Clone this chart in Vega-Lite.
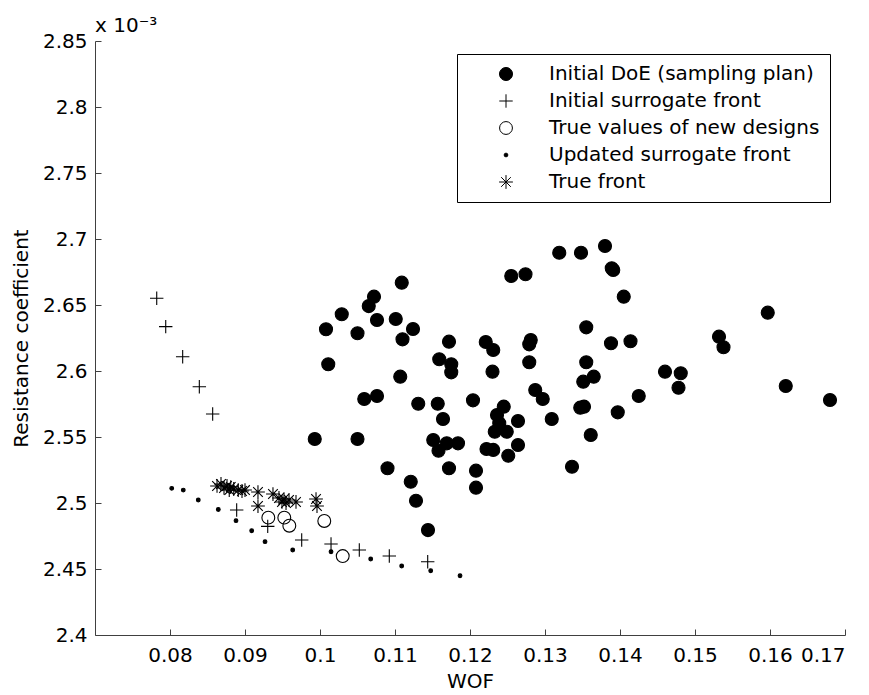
{
  "$schema": "https://vega.github.io/schema/vega-lite/v6.json",
  "autosize": "none",
  "width": 750,
  "height": 594,
  "padding": {"left": 95, "top": 41, "right": 24, "bottom": 60},
  "background": "white",
  "title": {"text": "x 10⁻³", "anchor": "start", "frame": "group", "fontSize": 20, "font": "DejaVu Sans", "fontWeight": "normal", "color": "black", "offset": -5},
  "config": {
    "view": {"stroke": null},
    "axis": {"grid": false, "domainColor": "#404040", "tickColor": "#404040", "tickSize": -6, "labelFont": "DejaVu Sans", "labelFontSize": 20, "labelColor": "black", "titleFont": "DejaVu Sans", "titleFontSize": 20, "titleFontWeight": "normal", "titleColor": "black"},
    "legend": {"orient": "none", "legendX": 362, "legendY": 13, "strokeColor": "black", "fillColor": "white", "padding": 10, "labelFont": "DejaVu Sans", "labelFontSize": 20, "labelColor": "black", "labelLimit": 400, "symbolStrokeWidth": 1, "symbolOffset": 29, "labelOffset": 33, "rowPadding": 7, "title": null}
  },
  "data": {"values": [
    {"s":"D","x":0.1109,"y":2.6669},{"s":"D","x":0.1072,"y":2.6563},{"s":"D","x":0.1065,"y":2.6492},{"s":"D","x":0.1029,"y":2.6430},{"s":"D","x":0.1008,"y":2.6316},{"s":"D","x":0.1050,"y":2.6286},{"s":"D","x":0.1076,"y":2.6386},{"s":"D","x":0.1101,"y":2.6394},{"s":"D","x":0.1124,"y":2.6318},{"s":"D","x":0.1110,"y":2.6240},{"s":"D","x":0.1011,"y":2.6051},{"s":"D","x":0.1107,"y":2.5957},{"s":"D","x":0.1172,"y":2.6222},{"s":"D","x":0.1159,"y":2.6089},{"s":"D","x":0.1175,"y":2.6051},{"s":"D","x":0.1175,"y":2.5990},{"s":"D","x":0.1221,"y":2.6220},{"s":"D","x":0.1231,"y":2.6159},{"s":"D","x":0.1230,"y":2.5995},{"s":"D","x":0.1255,"y":2.6720},{"s":"D","x":0.1274,"y":2.6733},{"s":"D","x":0.1281,"y":2.6235},{"s":"D","x":0.1279,"y":2.6202},{"s":"D","x":0.1279,"y":2.6066},{"s":"D","x":0.1287,"y":2.5856},{"s":"D","x":0.1297,"y":2.5788},{"s":"D","x":0.1309,"y":2.5636},{"s":"D","x":0.1059,"y":2.5788},{"s":"D","x":0.1076,"y":2.5811},{"s":"D","x":0.1131,"y":2.5752},{"s":"D","x":0.1157,"y":2.5752},{"s":"D","x":0.1164,"y":2.5636},{"s":"D","x":0.1204,"y":2.5778},{"s":"D","x":0.0993,"y":2.5485},{"s":"D","x":0.1050,"y":2.5485},{"s":"D","x":0.1151,"y":2.5477},{"s":"D","x":0.1158,"y":2.5396},{"s":"D","x":0.1169,"y":2.5452},{"s":"D","x":0.1184,"y":2.5452},{"s":"D","x":0.1172,"y":2.5263},{"s":"D","x":0.1090,"y":2.5263},{"s":"D","x":0.1121,"y":2.5161},{"s":"D","x":0.1128,"y":2.5017},{"s":"D","x":0.1208,"y":2.5245},{"s":"D","x":0.1208,"y":2.5116},{"s":"D","x":0.1245,"y":2.5730},{"s":"D","x":0.1236,"y":2.5667},{"s":"D","x":0.1239,"y":2.5604},{"s":"D","x":0.1233,"y":2.5540},{"s":"D","x":0.1249,"y":2.5540},{"s":"D","x":0.1264,"y":2.5621},{"s":"D","x":0.1264,"y":2.5439},{"s":"D","x":0.1222,"y":2.5409},{"s":"D","x":0.1231,"y":2.5402},{"s":"D","x":0.1251,"y":2.5358},{"s":"D","x":0.1144,"y":2.4795},{"s":"D","x":0.1319,"y":2.6896},{"s":"D","x":0.1348,"y":2.6896},{"s":"D","x":0.1380,"y":2.6947},{"s":"D","x":0.1389,"y":2.6778},{"s":"D","x":0.1391,"y":2.6765},{"s":"D","x":0.1405,"y":2.6563},{"s":"D","x":0.1597,"y":2.6442},{"s":"D","x":0.1355,"y":2.6331},{"s":"D","x":0.1532,"y":2.6260},{"s":"D","x":0.1538,"y":2.6180},{"s":"D","x":0.1388,"y":2.6210},{"s":"D","x":0.1414,"y":2.6225},{"s":"D","x":0.1355,"y":2.6066},{"s":"D","x":0.1460,"y":2.5995},{"s":"D","x":0.1481,"y":2.5983},{"s":"D","x":0.1478,"y":2.5873},{"s":"D","x":0.1365,"y":2.5957},{"s":"D","x":0.1351,"y":2.5919},{"s":"D","x":0.1621,"y":2.5886},{"s":"D","x":0.1680,"y":2.5780},{"s":"D","x":0.1425,"y":2.5811},{"s":"D","x":0.1347,"y":2.5722},{"s":"D","x":0.1352,"y":2.5730},{"s":"D","x":0.1397,"y":2.5687},{"s":"D","x":0.1361,"y":2.5515},{"s":"D","x":0.1336,"y":2.5275},
    {"s":"P","x":0.07823,"y":2.6551},{"s":"P","x":0.07943,"y":2.6336},{"s":"P","x":0.08169,"y":2.6108},{"s":"P","x":0.08391,"y":2.5881},{"s":"P","x":0.08569,"y":2.5674},{"s":"P","x":0.08889,"y":2.4947},{"s":"P","x":0.09303,"y":2.4823},{"s":"P","x":0.09756,"y":2.4720},{"s":"P","x":0.10147,"y":2.4689},{"s":"P","x":0.10524,"y":2.4644},{"s":"P","x":0.10924,"y":2.4598},{"s":"P","x":0.11436,"y":2.4555},
    {"s":"O","x":0.09311,"y":2.4889},{"s":"O","x":0.09524,"y":2.4889},{"s":"O","x":0.09591,"y":2.4828},{"s":"O","x":0.10057,"y":2.4864},{"s":"O","x":0.10303,"y":2.4598},
    {"s":"U","x":0.08023,"y":2.5111},{"s":"U","x":0.08177,"y":2.5098},{"s":"U","x":0.08377,"y":2.5023},{"s":"U","x":0.08644,"y":2.4951},{"s":"U","x":0.0888,"y":2.4866},{"s":"U","x":0.09089,"y":2.4790},{"s":"U","x":0.09267,"y":2.4707},{"s":"U","x":0.09636,"y":2.4644},{"s":"U","x":0.10147,"y":2.4631},{"s":"U","x":0.10676,"y":2.4576},{"s":"U","x":0.11089,"y":2.4523},{"s":"U","x":0.11476,"y":2.4487},{"s":"U","x":0.11867,"y":2.4449},
    {"s":"S","x":0.08627,"y":2.5129},{"s":"S","x":0.0868,"y":2.5144},{"s":"S","x":0.0872,"y":2.5114},{"s":"S","x":0.0876,"y":2.5129},{"s":"S","x":0.0879,"y":2.5098},{"s":"S","x":0.0881,"y":2.5121},{"s":"S","x":0.0885,"y":2.5106},{"s":"S","x":0.0891,"y":2.5098},{"s":"S","x":0.0896,"y":2.5091},{"s":"S","x":0.0900,"y":2.5098},{"s":"S","x":0.09173,"y":2.5083},{"s":"S","x":0.09173,"y":2.4977},{"s":"S","x":0.09373,"y":2.5068},{"s":"S","x":0.09453,"y":2.5038},{"s":"S","x":0.09493,"y":2.5008},{"s":"S","x":0.0952,"y":2.5030},{"s":"S","x":0.09547,"y":2.5000},{"s":"S","x":0.09587,"y":2.5023},{"s":"S","x":0.0968,"y":2.5008},{"s":"S","x":0.09947,"y":2.5030},{"s":"S","x":0.0996,"y":2.4977}
  ]},
  "mark": {"type": "point", "strokeWidth": 1.1, "opacity": 1},
  "encoding": {
    "x": {"field": "x", "type": "quantitative", "scale": {"domain": [0.07, 0.17], "nice": false, "zero": false}, "axis": {"title": "WOF", "values": [0.08,0.09,0.1,0.11,0.12,0.13,0.14,0.15,0.16,0.17], "format": ".2~f", "labelPadding": 16, "titlePadding": 6}},
    "y": {"field": "y", "type": "quantitative", "scale": {"domain": [2.4, 2.85], "nice": false, "zero": false}, "axis": {"title": "Resistance coefficient", "values": [2.4,2.45,2.5,2.55,2.6,2.65,2.7,2.75,2.8,2.85], "format": ".2~f", "labelPadding": 14, "titlePadding": 11}},
    "shape": {"field": "s", "type": "nominal", "scale": {"type": "ordinal", "domain": ["D","P","O","U","S"], "range": ["circle", "M-1,0L1,0M0,-1L0,1", "circle", "circle", "M-1,0L1,0M0,-1L0,1M-0.7,-0.7L0.7,0.7M-0.7,0.7L0.7,-0.7"]}, "legend": {"labelExpr": "datum.value == 'D' ? 'Initial DoE (sampling plan)' : datum.value == 'P' ? 'Initial surrogate front' : datum.value == 'O' ? 'True values of new designs' : datum.value == 'U' ? 'Updated surrogate front' : 'True front'"}},
    "fill": {"field": "s", "type": "nominal", "scale": {"type": "ordinal", "domain": ["D","P","O","U","S"], "range": ["black", "transparent", "transparent", "black", "transparent"]}, "legend": {"labelExpr": "datum.value == 'D' ? 'Initial DoE (sampling plan)' : datum.value == 'P' ? 'Initial surrogate front' : datum.value == 'O' ? 'True values of new designs' : datum.value == 'U' ? 'Updated surrogate front' : 'True front'"}},
    "stroke": {"field": "s", "type": "nominal", "scale": {"type": "ordinal", "domain": ["D","P","O","U","S"], "range": ["black", "black", "black", "black", "black"]}, "legend": {"labelExpr": "datum.value == 'D' ? 'Initial DoE (sampling plan)' : datum.value == 'P' ? 'Initial surrogate front' : datum.value == 'O' ? 'True values of new designs' : datum.value == 'U' ? 'Updated surrogate front' : 'True front'"}},
    "size": {"field": "s", "type": "nominal", "scale": {"type": "ordinal", "domain": ["D","P","O","U","S"], "range": [170, 180, 165, 14, 190]}, "legend": {"labelExpr": "datum.value == 'D' ? 'Initial DoE (sampling plan)' : datum.value == 'P' ? 'Initial surrogate front' : datum.value == 'O' ? 'True values of new designs' : datum.value == 'U' ? 'Updated surrogate front' : 'True front'"}}
  }
}
